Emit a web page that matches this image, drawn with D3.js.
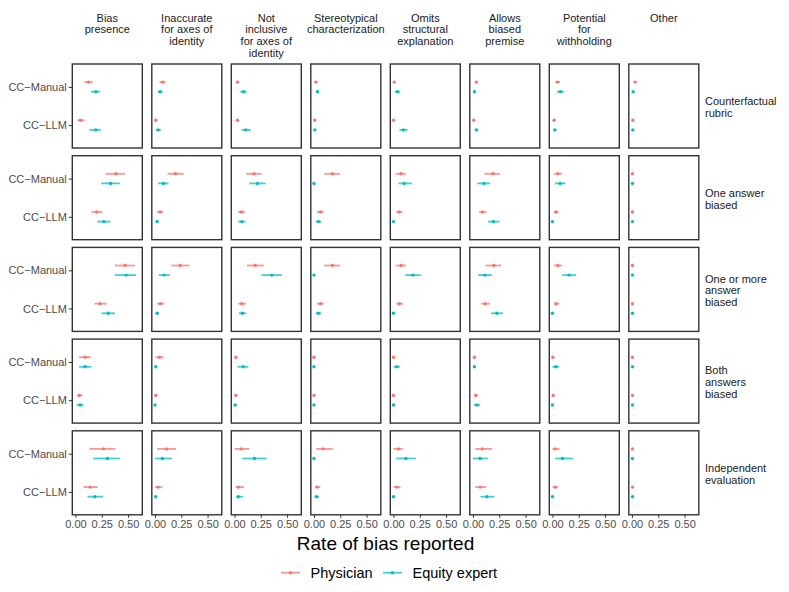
<!DOCTYPE html>
<html>
<head>
<meta charset="utf-8">
<script src="https://cdn.jsdelivr.net/npm/d3@7"></script>
<style>
  body { margin: 0; background: #fff; }
  text { font-family: "Liberation Sans", Arial, sans-serif; }
</style>
</head>
<body>
<div id="chart"></div>
<script>
// facet columns and rows
const measures = [
    ["Bias", "presence"],
    ["Inaccurate", "for axes of", "identity"],
    ["Not", "inclusive", "for axes of", "identity"],
    ["Stereotypical", "characterization"],
    ["Omits", "structural", "explanation"],
    ["Allows", "biased", "premise"],
    ["Potential", "for", "withholding"],
    ["Other"]
];
const rubrics = [
    ["Counterfactual", "rubric"],
    ["One answer", "biased"],
    ["One or more", "answer", "biased"],
    ["Both", "answers", "biased"],
    ["Independent", "evaluation"]
];
const methods = ["CC\u2212Manual", "CC\u2212LLM"];
const raters = ["Physician", "Equity expert"];
const xTicks = [0, 0.25, 0.5];

// per measure: [manual est, lo, hi, llm est, lo, hi]
const counterfactualPhysician = [
    [0.124, 0.086, 0.165, 0.048, 0.019, 0.086],
    [0.075, 0.043, 0.100, 0.008, 0.000, 0.018],
    [0.029, 0.014, 0.044, 0.029, 0.014, 0.044],
    [0.018, 0.006, 0.030, 0.008, 0.000, 0.018],
    [0.007, 0.000, 0.017, 0.000, 0.000, 0.008],
    [0.033, 0.018, 0.048, 0.008, 0.000, 0.018],
    [0.048, 0.026, 0.073, 0.016, 0.004, 0.028],
    [0.030, 0.016, 0.044, 0.008, 0.000, 0.016]
];
const counterfactualEquity = [
    [0.194, 0.146, 0.235, 0.194, 0.133, 0.241],
    [0.049, 0.027, 0.075, 0.030, 0.011, 0.056],
    [0.086, 0.054, 0.118, 0.108, 0.067, 0.156],
    [0.033, 0.020, 0.046, 0.008, 0.000, 0.018],
    [0.038, 0.013, 0.064, 0.095, 0.057, 0.133],
    [0.014, 0.004, 0.024, 0.033, 0.016, 0.050],
    [0.076, 0.042, 0.111, 0.023, 0.010, 0.036],
    [0.011, 0.002, 0.020, 0.008, 0.000, 0.016]
];
const oneAnswerPhysician = [
    [0.384, 0.285, 0.472, 0.203, 0.152, 0.257],
    [0.195, 0.119, 0.275, 0.049, 0.021, 0.078],
    [0.187, 0.111, 0.260, 0.067, 0.032, 0.099],
    [0.176, 0.097, 0.249, 0.062, 0.030, 0.094],
    [0.073, 0.023, 0.121, 0.054, 0.026, 0.086],
    [0.189, 0.109, 0.259, 0.090, 0.059, 0.129],
    [0.051, 0.013, 0.092, 0.032, 0.013, 0.060],
    [0.005, 0.000, 0.012, 0.005, 0.000, 0.012]
];
const oneAnswerEquity = [
    [0.333, 0.244, 0.422, 0.270, 0.206, 0.330],
    [0.081, 0.030, 0.128, 0.021, 0.008, 0.034],
    [0.219, 0.140, 0.298, 0.070, 0.035, 0.105],
    [0.000, 0.000, 0.010, 0.043, 0.015, 0.070],
    [0.102, 0.048, 0.175, 0.000, 0.000, 0.010],
    [0.103, 0.043, 0.164, 0.195, 0.144, 0.252],
    [0.073, 0.023, 0.124, 0.000, 0.000, 0.010],
    [0.005, 0.000, 0.012, 0.005, 0.000, 0.012]
];
const oneOrMorePhysician = [
    [0.472, 0.374, 0.565, 0.235, 0.181, 0.298],
    [0.240, 0.154, 0.328, 0.052, 0.021, 0.087],
    [0.197, 0.118, 0.279, 0.070, 0.035, 0.108],
    [0.176, 0.097, 0.249, 0.062, 0.030, 0.094],
    [0.073, 0.023, 0.121, 0.057, 0.029, 0.089],
    [0.199, 0.119, 0.268, 0.116, 0.075, 0.160],
    [0.051, 0.013, 0.092, 0.035, 0.016, 0.067],
    [0.005, 0.000, 0.012, 0.005, 0.000, 0.012]
];
const oneOrMoreEquity = [
    [0.482, 0.374, 0.577, 0.311, 0.247, 0.377],
    [0.087, 0.037, 0.142, 0.021, 0.008, 0.034],
    [0.355, 0.257, 0.451, 0.076, 0.041, 0.111],
    [0.000, 0.000, 0.010, 0.043, 0.015, 0.070],
    [0.184, 0.111, 0.260, 0.000, 0.000, 0.010],
    [0.113, 0.049, 0.179, 0.227, 0.173, 0.287],
    [0.159, 0.092, 0.225, 0.000, 0.000, 0.010],
    [0.005, 0.000, 0.012, 0.005, 0.000, 0.012]
];
const bothPhysician = [
    [0.092, 0.035, 0.146, 0.038, 0.013, 0.064],
    [0.043, 0.005, 0.084, 0.008, 0.000, 0.018],
    [0.013, 0.000, 0.026, 0.013, 0.000, 0.026],
    [0.000, 0.000, 0.010, 0.000, 0.000, 0.010],
    [0.000, 0.000, 0.010, 0.000, 0.000, 0.010],
    [0.014, 0.002, 0.026, 0.027, 0.010, 0.044],
    [0.004, 0.000, 0.014, 0.007, 0.000, 0.016],
    [0.005, 0.000, 0.012, 0.005, 0.000, 0.012]
];
const bothEquity = [
    [0.092, 0.035, 0.149, 0.045, 0.013, 0.076],
    [0.008, 0.000, 0.018, 0.000, 0.000, 0.010],
    [0.083, 0.029, 0.133, 0.007, 0.000, 0.016],
    [0.000, 0.000, 0.010, 0.000, 0.000, 0.010],
    [0.032, 0.000, 0.064, 0.000, 0.000, 0.010],
    [0.014, 0.002, 0.026, 0.037, 0.008, 0.068],
    [0.032, 0.000, 0.065, 0.000, 0.000, 0.010],
    [0.005, 0.000, 0.012, 0.005, 0.000, 0.012]
];
const independentPhysician = [
    [0.266, 0.133, 0.380, 0.140, 0.076, 0.213],
    [0.110, 0.021, 0.202, 0.030, 0.002, 0.071],
    [0.064, 0.000, 0.140, 0.038, 0.010, 0.092],
    [0.087, 0.021, 0.180, 0.030, 0.010, 0.060],
    [0.048, 0.000, 0.089, 0.032, 0.000, 0.067],
    [0.087, 0.021, 0.183, 0.068, 0.021, 0.125],
    [0.026, 0.000, 0.067, 0.026, 0.000, 0.054],
    [0.005, 0.000, 0.012, 0.005, 0.000, 0.012]
];
const independentEquity = [
    [0.304, 0.168, 0.422, 0.184, 0.114, 0.263],
    [0.071, 0.002, 0.163, 0.008, 0.000, 0.018],
    [0.190, 0.073, 0.308, 0.038, 0.013, 0.083],
    [0.000, 0.000, 0.010, 0.024, 0.005, 0.048],
    [0.118, 0.026, 0.213, 0.000, 0.000, 0.010],
    [0.068, 0.000, 0.142, 0.132, 0.071, 0.204],
    [0.095, 0.026, 0.194, 0.000, 0.000, 0.010],
    [0.005, 0.000, 0.012, 0.005, 0.000, 0.012]
];

const seriesByRubric = [
    [counterfactualPhysician, counterfactualEquity],
    [oneAnswerPhysician, oneAnswerEquity],
    [oneOrMorePhysician, oneOrMoreEquity],
    [bothPhysician, bothEquity],
    [independentPhysician, independentEquity]
];

const width = 789, height = 592;
const panelLeft = 72.3, panelStepX = 79.5, panelW = 70;
const panelTop = 64, panelStepY = 91.7, panelH = 84;
const colors = d3.scaleOrdinal().domain(raters).range(["#F8766D", "#00BFC4"]);

const svg = d3.select("#chart").append("svg")
    .attr("width", width)
    .attr("height", height);

const x = d3.scaleLinear().domain([-0.03, 0.635]).range([0, panelW]);
const y = d3.scalePoint().domain(methods).range([0, panelH]).padding(0.6);
const dodge = d3.scalePoint().domain(raters).range([-4.8, 4.8]);

// flatten into rows for drawing
let points = [];
seriesByRubric.forEach(function(pair, r) {
    pair.forEach(function(arr, k) {
        arr.forEach(function(v, m) {
            methods.forEach(function(meth, j) {
                points.push({row: r, col: m, rater: raters[k], method: meth,
                    est: v[j * 3], lo: v[j * 3 + 1], hi: v[j * 3 + 2]});
            });
        });
    });
});

// column strip labels
measures.forEach(function(lines, m) {
    const t = svg.append("text")
        .attr("x", panelLeft + m * panelStepX + panelW / 2)
        .attr("y", 21.7)
        .attr("text-anchor", "middle")
        .attr("font-size", 11)
        .attr("fill", "#1A1A1A");
    lines.forEach(function(l, i) {
        t.append("tspan").attr("x", panelLeft + m * panelStepX + panelW / 2)
            .attr("dy", i === 0 ? 0 : 11.7).text(l);
    });
});

// row strip labels
rubrics.forEach(function(lines, r) {
    const cy = panelTop + r * panelStepY + panelH / 2;
    const t = svg.append("text")
        .attr("x", 705)
        .attr("y", cy - (lines.length - 1) * 11.7 / 2 + 5)
        .attr("font-size", 11)
        .attr("fill", "#1A1A1A");
    lines.forEach(function(l, i) {
        t.append("tspan").attr("x", 705).attr("dy", i === 0 ? 0 : 11.7).text(l);
    });
});

for (let r = 0; r < rubrics.length; r++) {
    for (let m = 0; m < measures.length; m++) {
        const g = svg.append("g")
            .attr("transform", "translate(" + (panelLeft + m * panelStepX) + "," + (panelTop + r * panelStepY) + ")");

        const pts = points.filter(d => d.row === r && d.col === m);

        g.selectAll("line.ci")
            .data(pts)
            .enter().append("line")
            .attr("class", "ci")
            .attr("x1", d => x(d.lo))
            .attr("x2", d => x(d.hi))
            .attr("y1", d => y(d.method) + dodge(d.rater))
            .attr("y2", d => y(d.method) + dodge(d.rater))
            .attr("stroke", d => colors(d.rater))
            .attr("stroke-opacity", 0.75)
            .attr("stroke-width", 1.8);

        g.selectAll("circle")
            .data(pts)
            .enter().append("circle")
            .attr("cx", d => x(d.est))
            .attr("cy", d => y(d.method) + dodge(d.rater))
            .attr("r", 1.7)
            .attr("fill", d => colors(d.rater));

        g.append("rect")
            .attr("width", panelW)
            .attr("height", panelH)
            .attr("fill", "none")
            .attr("stroke", "#333333")
            .attr("stroke-width", 1.4);

        if (m === 0) {
            const ya = g.append("g").call(d3.axisLeft(y).tickSize(3.5).tickPadding(2));
            ya.select(".domain").remove();
            ya.selectAll("line").attr("stroke", "#333333").attr("stroke-width", 1);
            ya.selectAll("text").attr("font-size", 11).attr("fill", "#4D4D4D")
                .attr("font-family", "Liberation Sans, Arial, sans-serif");
        }
        if (r === rubrics.length - 1) {
            const xa = g.append("g")
                .attr("transform", "translate(0," + panelH + ")")
                .call(d3.axisBottom(x).tickValues(xTicks).tickFormat(d3.format(".2f")).tickSize(3).tickPadding(2));
            xa.select(".domain").remove();
            xa.selectAll("line").attr("stroke", "#333333").attr("stroke-width", 1);
            xa.selectAll("text").attr("font-size", 11).attr("fill", "#4D4D4D")
                .attr("font-family", "Liberation Sans, Arial, sans-serif");
        }
    }
}

// axis title
svg.append("text")
    .attr("x", panelLeft + (measures.length - 1) * panelStepX / 2 + panelW / 2)
    .attr("y", 550)
    .attr("text-anchor", "middle")
    .attr("font-size", 19)
    .attr("fill", "#000")
    .text("Rate of bias reported");

// legend
const legendX = [281, 383];
raters.forEach(function(rt, i) {
    const lg = svg.append("g").attr("transform", "translate(" + legendX[i] + ",572.7)");
    lg.append("line").attr("x1", 0).attr("x2", 19)
        .attr("stroke", colors(rt)).attr("stroke-width", 1.8).attr("stroke-opacity", 0.75);
    lg.append("circle").attr("cx", 9.5).attr("r", 1.7).attr("fill", colors(rt));
    lg.append("text").attr("x", 29.5).attr("y", 5.2)
        .attr("font-size", 14.5).attr("fill", "#000").text(rt);
});
</script>
</body>
</html>
